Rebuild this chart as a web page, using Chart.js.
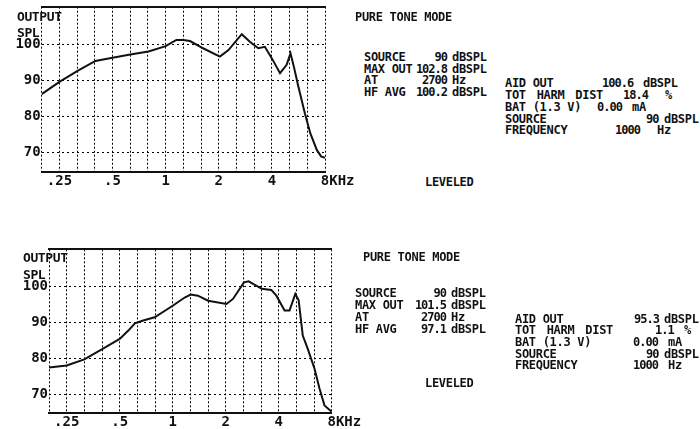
<!DOCTYPE html>
<html>
<head>
<meta charset="utf-8">
<script src="https://cdn.jsdelivr.net/npm/chart.js@4/dist/chart.umd.min.js"></script>
<style>
  html, body { margin: 0; padding: 0; background: #fff; }
  #page { position: relative; width: 700px; height: 429px; overflow: hidden; background: #fff; }
  canvas { position: absolute; left: 0; }
  .t { position: absolute; font-family: "DejaVu Sans Mono", monospace; font-weight: bold;
       font-size: 12px; line-height: 12px; color: #111; white-space: pre; letter-spacing: -0.3px; }
  .ax { font-size: 13px; line-height: 13px; letter-spacing: -0.4px; }
  .num { letter-spacing: -1px; }
  .wide { word-spacing: 4px; }
</style>
</head>
<body>
<div id="page">
  <canvas id="sweepA" width="360" height="195" style="top:0px"></canvas>
  <canvas id="sweepB" width="365" height="189" style="top:240px"></canvas>
</div>
<script>
// 1/3-octave grid, 198 Hz .. 8 kHz
const gridFreqs = [198.4, 250, 315, 396.9, 500, 630, 793.7, 1000, 1260, 1587, 2000, 2520, 3175, 4000, 5040, 6350, 8000];
const gridLabels = ['', '.25', '', '', '.5', '', '', '1', '', '', '2', '', '', '4', '', '', '   8KHz'];
const levelTicks = [70, 80, 90, 100];

// first sweep: output SPL (dB) against frequency (Hz)
const freqsA = [198.4, 250, 315, 400, 500, 630, 800, 1000, 1150, 1260, 1375, 1630, 2030, 2270, 2700, 3000, 3350, 3650, 4000, 4450, 4850, 5100, 5300, 5650, 6150, 6600, 7200, 7600, 8000];
const levelsA = [86.2, 89.6, 92.6, 95.4, 96.3, 97.2, 98.0, 99.5, 101.2, 101.2, 100.9, 98.9, 96.6, 98.4, 102.8, 100.7, 98.9, 99.3, 96.1, 92.0, 94.3, 97.5, 94.3, 88.3, 80.9, 75.4, 70.7, 69.0, 68.6];

// second sweep
const freqsB = [198.4, 250, 315, 400, 500, 560, 610, 680, 790, 1000, 1170, 1265, 1390, 1590, 2020, 2200, 2540, 2700, 3210, 3630, 3880, 4320, 4610, 4970, 5190, 5480, 5850, 6390, 6820, 7280, 8000];
const levelsB = [77.5, 78.1, 79.8, 82.7, 85.5, 87.8, 89.8, 90.6, 91.5, 94.7, 97.0, 97.8, 97.5, 96.1, 95.2, 96.6, 101.2, 101.5, 99.4, 99.1, 97.5, 93.4, 93.4, 98.0, 96.3, 86.4, 82.7, 77.2, 71.7, 67.0, 65.2];

// printed readouts
const modeTitle = 'PURE TONE MODE';
const footerText = 'LEVELED';
const captionLines = ['OUTPUT', 'SPL'];
const sweepRowsA = [['SOURCE', '90', 'dBSPL'], ['MAX OUT', '102.8', 'dBSPL'], ['AT', '2700', 'Hz'], ['HF AVG', '100.2', 'dBSPL']];
const aidRowsA = [['AID OUT', '100.6', 'dBSPL'], ['TOT HARM DIST', '18.4', '%'], ['BAT (1.3 V)', '0.00', 'mA'], ['SOURCE', '90', 'dBSPL'], ['FREQUENCY', '1000', 'Hz']];
const sweepRowsB = [['SOURCE', '90', 'dBSPL'], ['MAX OUT', '101.5', 'dBSPL'], ['AT', '2700', 'Hz'], ['HF AVG', '97.1', 'dBSPL']];
const aidRowsB = [['AID OUT', '95.3', 'dBSPL'], ['TOT HARM DIST', '1.1', '%'], ['BAT (1.3 V)', '0.00', 'mA'], ['SOURCE', '90', 'dBSPL'], ['FREQUENCY', '1000', 'Hz']];

const INK = '#111';
const MONO = '"DejaVu Sans Mono", monospace';
const AXIS_H = 14;

function drawSweep(id, freqs, levels, area) {
  const el = document.getElementById(id);
  const W = el.width, H = el.height;
  return new Chart(el, {
    type: 'line',
    data: {
      datasets: [{
        data: freqs.map((f, i) => ({ x: f, y: levels[i] })),
        borderColor: INK, borderWidth: 2, pointRadius: 0, tension: 0, fill: false
      }]
    },
    options: {
      responsive: false, animation: false, events: [],
      layout: { padding: { left: 0, top: area.top, right: W - area.right, bottom: H - area.bottom - AXIS_H } },
      plugins: { legend: { display: false }, tooltip: { enabled: false } },
      scales: {
        x: {
          type: 'logarithmic', position: 'bottom',
          min: gridFreqs[0], max: gridFreqs[gridFreqs.length - 1],
          afterBuildTicks: s => { s.ticks = gridFreqs.map(v => ({ value: v })); },
          afterFit: s => { s.height = AXIS_H; s.paddingLeft = 0; s.paddingRight = 0; },
          grid: { color: '#000', lineWidth: 1, drawTicks: false },
          border: { display: true, color: INK, width: 2, dash: [2, 2] },
          ticks: {
            autoSkip: false, maxRotation: 0, minRotation: 0, padding: 1, color: INK,
            font: { family: MONO, size: 14, weight: 'bold' },
            callback: (v, i) => gridLabels[i]
          }
        },
        xTop: {
          axis: 'x', type: 'linear', position: 'top', display: true,
          grid: { display: false, drawTicks: false },
          ticks: { display: false },
          border: { display: true, color: INK, width: 2 },
          afterFit: s => { s.height = 0; s.paddingLeft = 0; s.paddingRight = 0; }
        },
        y: {
          type: 'linear', min: 64.8, max: 110.4,
          afterBuildTicks: s => { s.ticks = levelTicks.map(v => ({ value: v })); },
          afterFit: s => { s.width = area.left; s.paddingTop = 0; s.paddingBottom = 0; },
          grid: { color: '#000', lineWidth: 1, drawTicks: false },
          border: { display: false, dash: [2, 3] },
          ticks: {
            padding: 1, color: INK,
            font: { family: MONO, size: 14, weight: 'bold' },
            callback: v => String(v)
          }
        }
      }
    }
  });
}

drawSweep('sweepA', freqsA, levelsA, { left: 41.7, right: 325, top: 6.7, bottom: 171.5 });
drawSweep('sweepB', freqsB, levelsB, { left: 49, right: 331.7, top: 9.3, bottom: 173.3 });

// text runs: left-anchored, or right-anchored when alignRight is set
const page = document.getElementById('page');
function put(text, x, yMid, cls, alignRight) {
  const d = document.createElement('div');
  d.className = 't' + (cls ? ' ' + cls : '');
  d.textContent = text;
  const fs = cls === 'ax' ? 13 : 12;
  d.style.top = (yMid - fs * 0.47) + 'px';
  if (alignRight) d.style.right = (700 - x) + 'px';
  else d.style.left = x + 'px';
  page.appendChild(d);
}

// sweep summary: label | value (right edge) | unit
function putSweepRows(rows, labelX, valueRight, unitX, ys) {
  rows.forEach((r, i) => {
    put(r[0], labelX, ys[i]);
    put(r[1], valueRight, ys[i], 'num', true);
    put(r[2], unitX, ys[i]);
  });
}
// aid readout: label | value (left edge) | unit (left edge)
function putAidRows(rows, labelX, valueXs, unitXs, ys) {
  rows.forEach((r, i) => {
    put(r[0], labelX, ys[i], i === 1 ? 'wide' : '');
    put(r[1], valueXs[i], ys[i], 'num');
    put(r[2], unitXs[i], ys[i]);
  });
}

// axis captions
put(captionLines[0], 17, 16, 'ax');
put(captionLines[1], 17, 32, 'ax');
put(captionLines[0], 23, 257.5, 'ax');
put(captionLines[1], 23, 274, 'ax');

// first readout
put(modeTitle, 355, 17);
putSweepRows(sweepRowsA, 364, 447, 452, [57, 68.5, 80, 91.5]);
putAidRows(aidRowsA, 505, [602, 623, 597, 646, 615], [643, 665, 632, 664, 657], [83, 95, 107, 118.5, 130]);
put(footerText, 425, 182);

// second readout
put(modeTitle, 363, 257);
putSweepRows(sweepRowsB, 355, 446, 451, [293, 305, 317, 328.5]);
putAidRows(aidRowsB, 515, [634, 655, 633, 646, 633], [664, 684, 668, 664, 668], [318.5, 330, 342, 353.5, 365]);
put(footerText, 425, 383);
</script>
</body>
</html>
